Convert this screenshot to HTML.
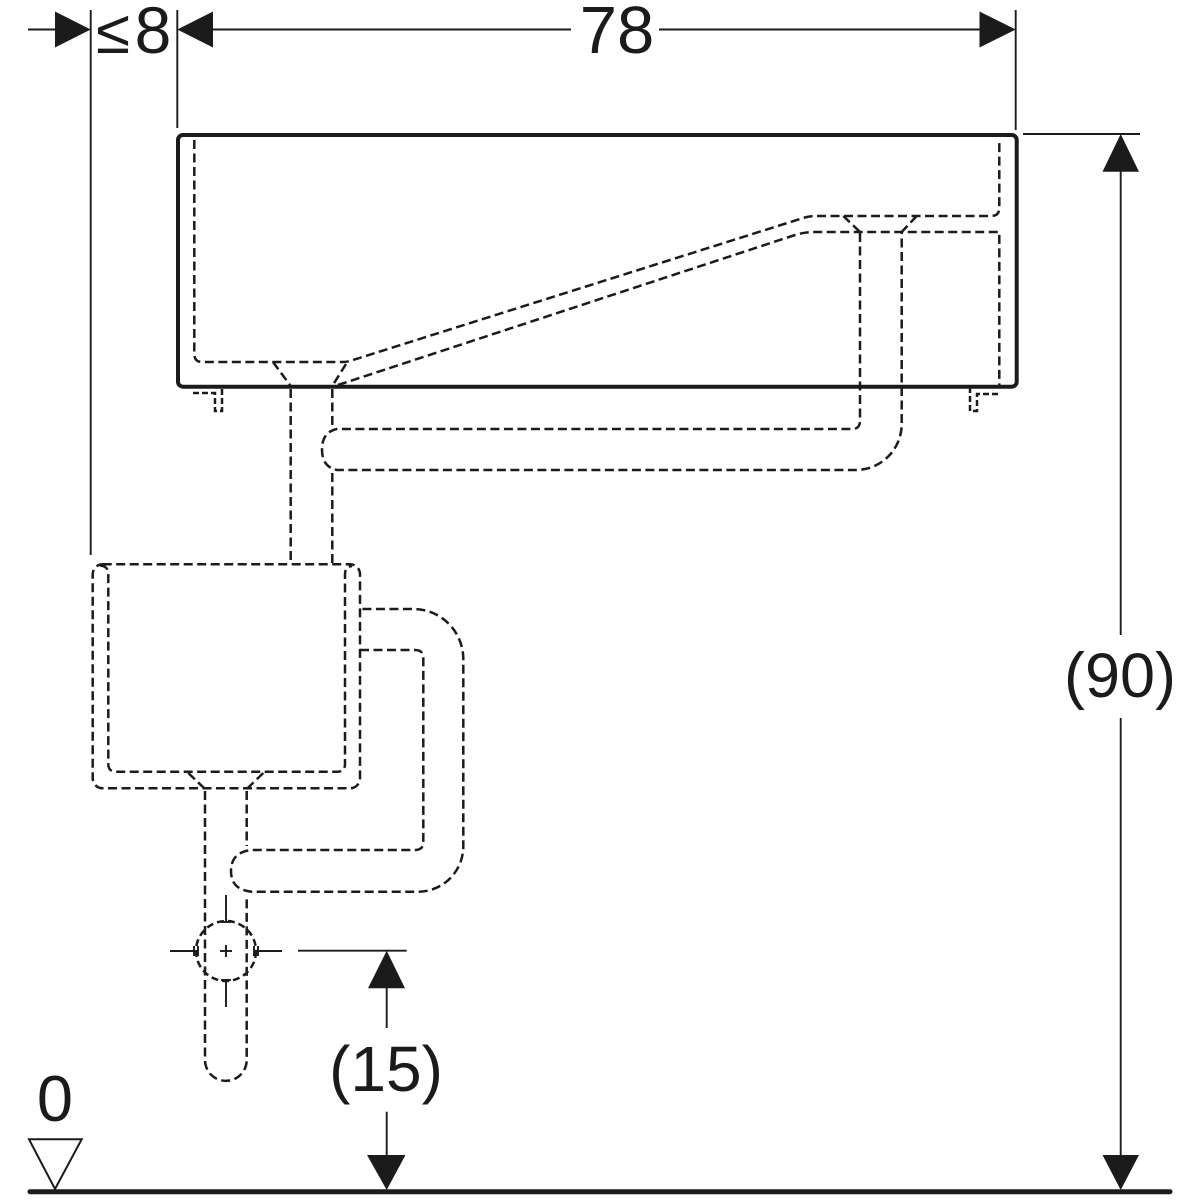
<!DOCTYPE html>
<html>
<head>
<meta charset="utf-8">
<style>
  html, body { margin:0; padding:0; background:#fff; }
  svg { display:block; }
  text { font-family: "Liberation Sans", Arial, sans-serif; fill:#1b1b1b; }
</style>
</head>
<body>
<svg width="1200" height="1200" viewBox="0 0 1200 1200" xmlns="http://www.w3.org/2000/svg">
  <rect width="1200" height="1200" fill="#fff"/>

  <!-- ===== Dimension lines (thin) ===== -->
  <g stroke="#1b1b1b" stroke-width="1.9" fill="none">
    <line x1="28" y1="29.5" x2="60" y2="29.5"/>
    <line x1="210" y1="29.5" x2="571" y2="29.5"/>
    <line x1="659" y1="29.5" x2="982" y2="29.5"/>
    <line x1="90.7" y1="10" x2="90.7" y2="555"/>
    <line x1="177.3" y1="10" x2="177.3" y2="128"/>
    <line x1="1015.7" y1="10" x2="1015.7" y2="130"/>
    <line x1="1023" y1="134" x2="1140" y2="134"/>
    <line x1="1120.7" y1="168" x2="1120.7" y2="635"/>
    <line x1="1120.7" y1="718" x2="1120.7" y2="1158"/>
    <line x1="298" y1="950.7" x2="406.7" y2="950.7"/>
    <line x1="386.7" y1="985" x2="386.7" y2="1028"/>
    <line x1="386.7" y1="1111.7" x2="386.7" y2="1158"/>
  </g>

  <!-- arrowheads -->
  <g fill="#1b1b1b" stroke="none">
    <polygon points="90.7,29.5 55,11.5 55,47.5"/>
    <polygon points="177.3,29.5 213,11.5 213,47.5"/>
    <polygon points="1015.7,29.5 979.5,11.5 979.5,47.5"/>
    <polygon points="1120.7,134 1102.5,171.7 1139,171.7"/>
    <polygon points="1120.7,1190 1102.5,1155 1139,1155"/>
    <polygon points="386.7,950.7 368,988.3 405,988.3"/>
    <polygon points="386.7,1190 367,1155 405.5,1155"/>
  </g>

  <!-- dimension texts -->
  <text x="617" y="53" font-size="67" text-anchor="middle">78</text>
  <text x="96" y="53" font-size="62">≤</text>
  <text x="153" y="53" font-size="66" text-anchor="middle">8</text>
  <text x="1120" y="697" font-size="63" text-anchor="middle">(90)</text>
  <text x="386" y="1091" font-size="64" text-anchor="middle">(15)</text>
  <text x="55" y="1121" font-size="65" text-anchor="middle">0</text>

  <!-- floor line & level marker -->
  <line x1="30" y1="1191.7" x2="1170" y2="1191.7" stroke="#1b1b1b" stroke-width="5" stroke-linecap="round"/>
  <polygon points="29,1139.3 81.7,1139.3 55,1189" fill="#fff" stroke="#1b1b1b" stroke-width="2"/>

  <!-- ===== Sink outer (solid) ===== -->
  <rect x="178" y="135" width="838.7" height="251.7" rx="5" ry="5" fill="none" stroke="#1b1b1b" stroke-width="4"/>

  <!-- ===== Dashed hidden lines ===== -->
  <g stroke="#1b1b1b" stroke-width="2.5" fill="none" stroke-dasharray="9 4.5">
    <path d="M194.3,140 L194.3,354 Q194.3,362 202,362 L343,362 Q348,362 353,360 L800,219 Q808,216 816,216 L991,216 Q999.3,216 999.3,208 L999.3,140"/>
    <path d="M338,385 L795,235 Q805,232 815,232 L999.3,232 L999.3,386"/>
    <path d="M273,362 L290.7,386"/>
    <path d="M346,364 L332.3,386"/>
    <path d="M843.3,216 L860,232"/>
    <path d="M916.7,216 L901.7,232"/>
    <path d="M193,393 L215,393 L215,411 L222,411 L222,388" stroke-dasharray="6 3"/>
    <path d="M998,394 L977,394 L977,411 L970,411 L970,388" stroke-dasharray="6 3"/>

    <path d="M290.7,389 L290.7,564"/>
    <path d="M332.3,389 L332.3,426"/>
    <path d="M332.3,473 L332.3,564"/>
    <path d="M860,233 L860,421 Q860,429 852,429 L337,429 Q322,432 322,449.5 Q322,467 337,470 L856,470 A46 46 0 0 0 901.7,424 L901.7,233"/>

    <rect x="92.7" y="564.3" width="267.3" height="224" rx="10" ry="10"/>
    <path d="M100,565.5 Q108.3,566 108.3,574 L108.3,764 Q108.3,771.7 116,771.7 L337,771.7 Q345,771.7 345,764 L345,574 Q345,567 352,566"/>
    <path d="M188.3,773 L205,789"/>
    <path d="M263.3,773 L246.7,789"/>
    <path d="M205,791 L205,1060 A20.85 20.85 0 0 0 246.7,1060 L246.7,895"/>
    <path d="M246.7,791 L246.7,846"/>
    <path d="M360,650 L415,650 Q423.3,650 423.3,658 L423.3,842 Q423.3,850 415,850 L252,850 Q231,852 231,871 Q231,890 252,891.7 L418,891.7 A45.3 45.3 0 0 0 463.3,846.4 L463.3,659 A50 50 0 0 0 413.3,609 L360,609"/>

    <circle cx="226" cy="951" r="30" stroke-dasharray="7 4"/>
  </g>

  <!-- crosshair -->
  <g stroke="#1b1b1b" stroke-width="1.9" fill="none">
    <line x1="170" y1="951" x2="197" y2="951"/>
    <line x1="255" y1="951" x2="282" y2="951"/>
    <line x1="226" y1="895" x2="226" y2="922"/>
    <line x1="226" y1="980" x2="226" y2="1007"/>
    <line x1="194" y1="946" x2="194" y2="956"/>
    <line x1="198" y1="946" x2="198" y2="956"/>
    <line x1="254" y1="946" x2="254" y2="956"/>
    <line x1="258" y1="946" x2="258" y2="956"/>
    <line x1="221" y1="922" x2="231" y2="922"/>
    <line x1="221" y1="980" x2="231" y2="980"/>
    <line x1="220" y1="951" x2="232" y2="951"/>
    <line x1="226" y1="945" x2="226" y2="957"/>
  </g>
</svg>
</body>
</html>
